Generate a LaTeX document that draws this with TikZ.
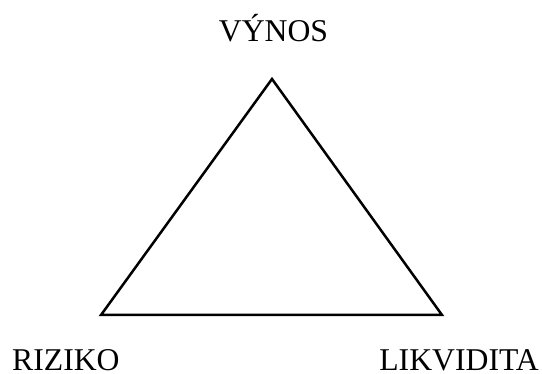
\documentclass[tikz,border=0pt]{standalone}
\usepackage{fontspec}
\setmainfont{Liberation Serif}
\begin{document}
\begin{tikzpicture}[x=1pt,y=-1pt,
  lbl/.style={inner sep=0pt,font=\fontsize{31.7}{36}\selectfont},
  edge/.style={draw=black,line width=2.5pt,line join=miter}]
\useasboundingbox (0,0) rectangle (542,374);
\coordinate (top) at (272,79);
\coordinate (left) at (101,315);
\coordinate (right) at (442,315);
\draw[edge] (top) -- (left) -- (right) -- cycle;
\node[lbl,anchor=base] (vynos) at (273.5,42) {VÝNOS};
\node[lbl,anchor=base west] (riziko) at (12,371) {RIZIKO};
\node[lbl,anchor=base east] (likv) at (539,371) {LIKVIDITA};
\end{tikzpicture}
\end{document}
